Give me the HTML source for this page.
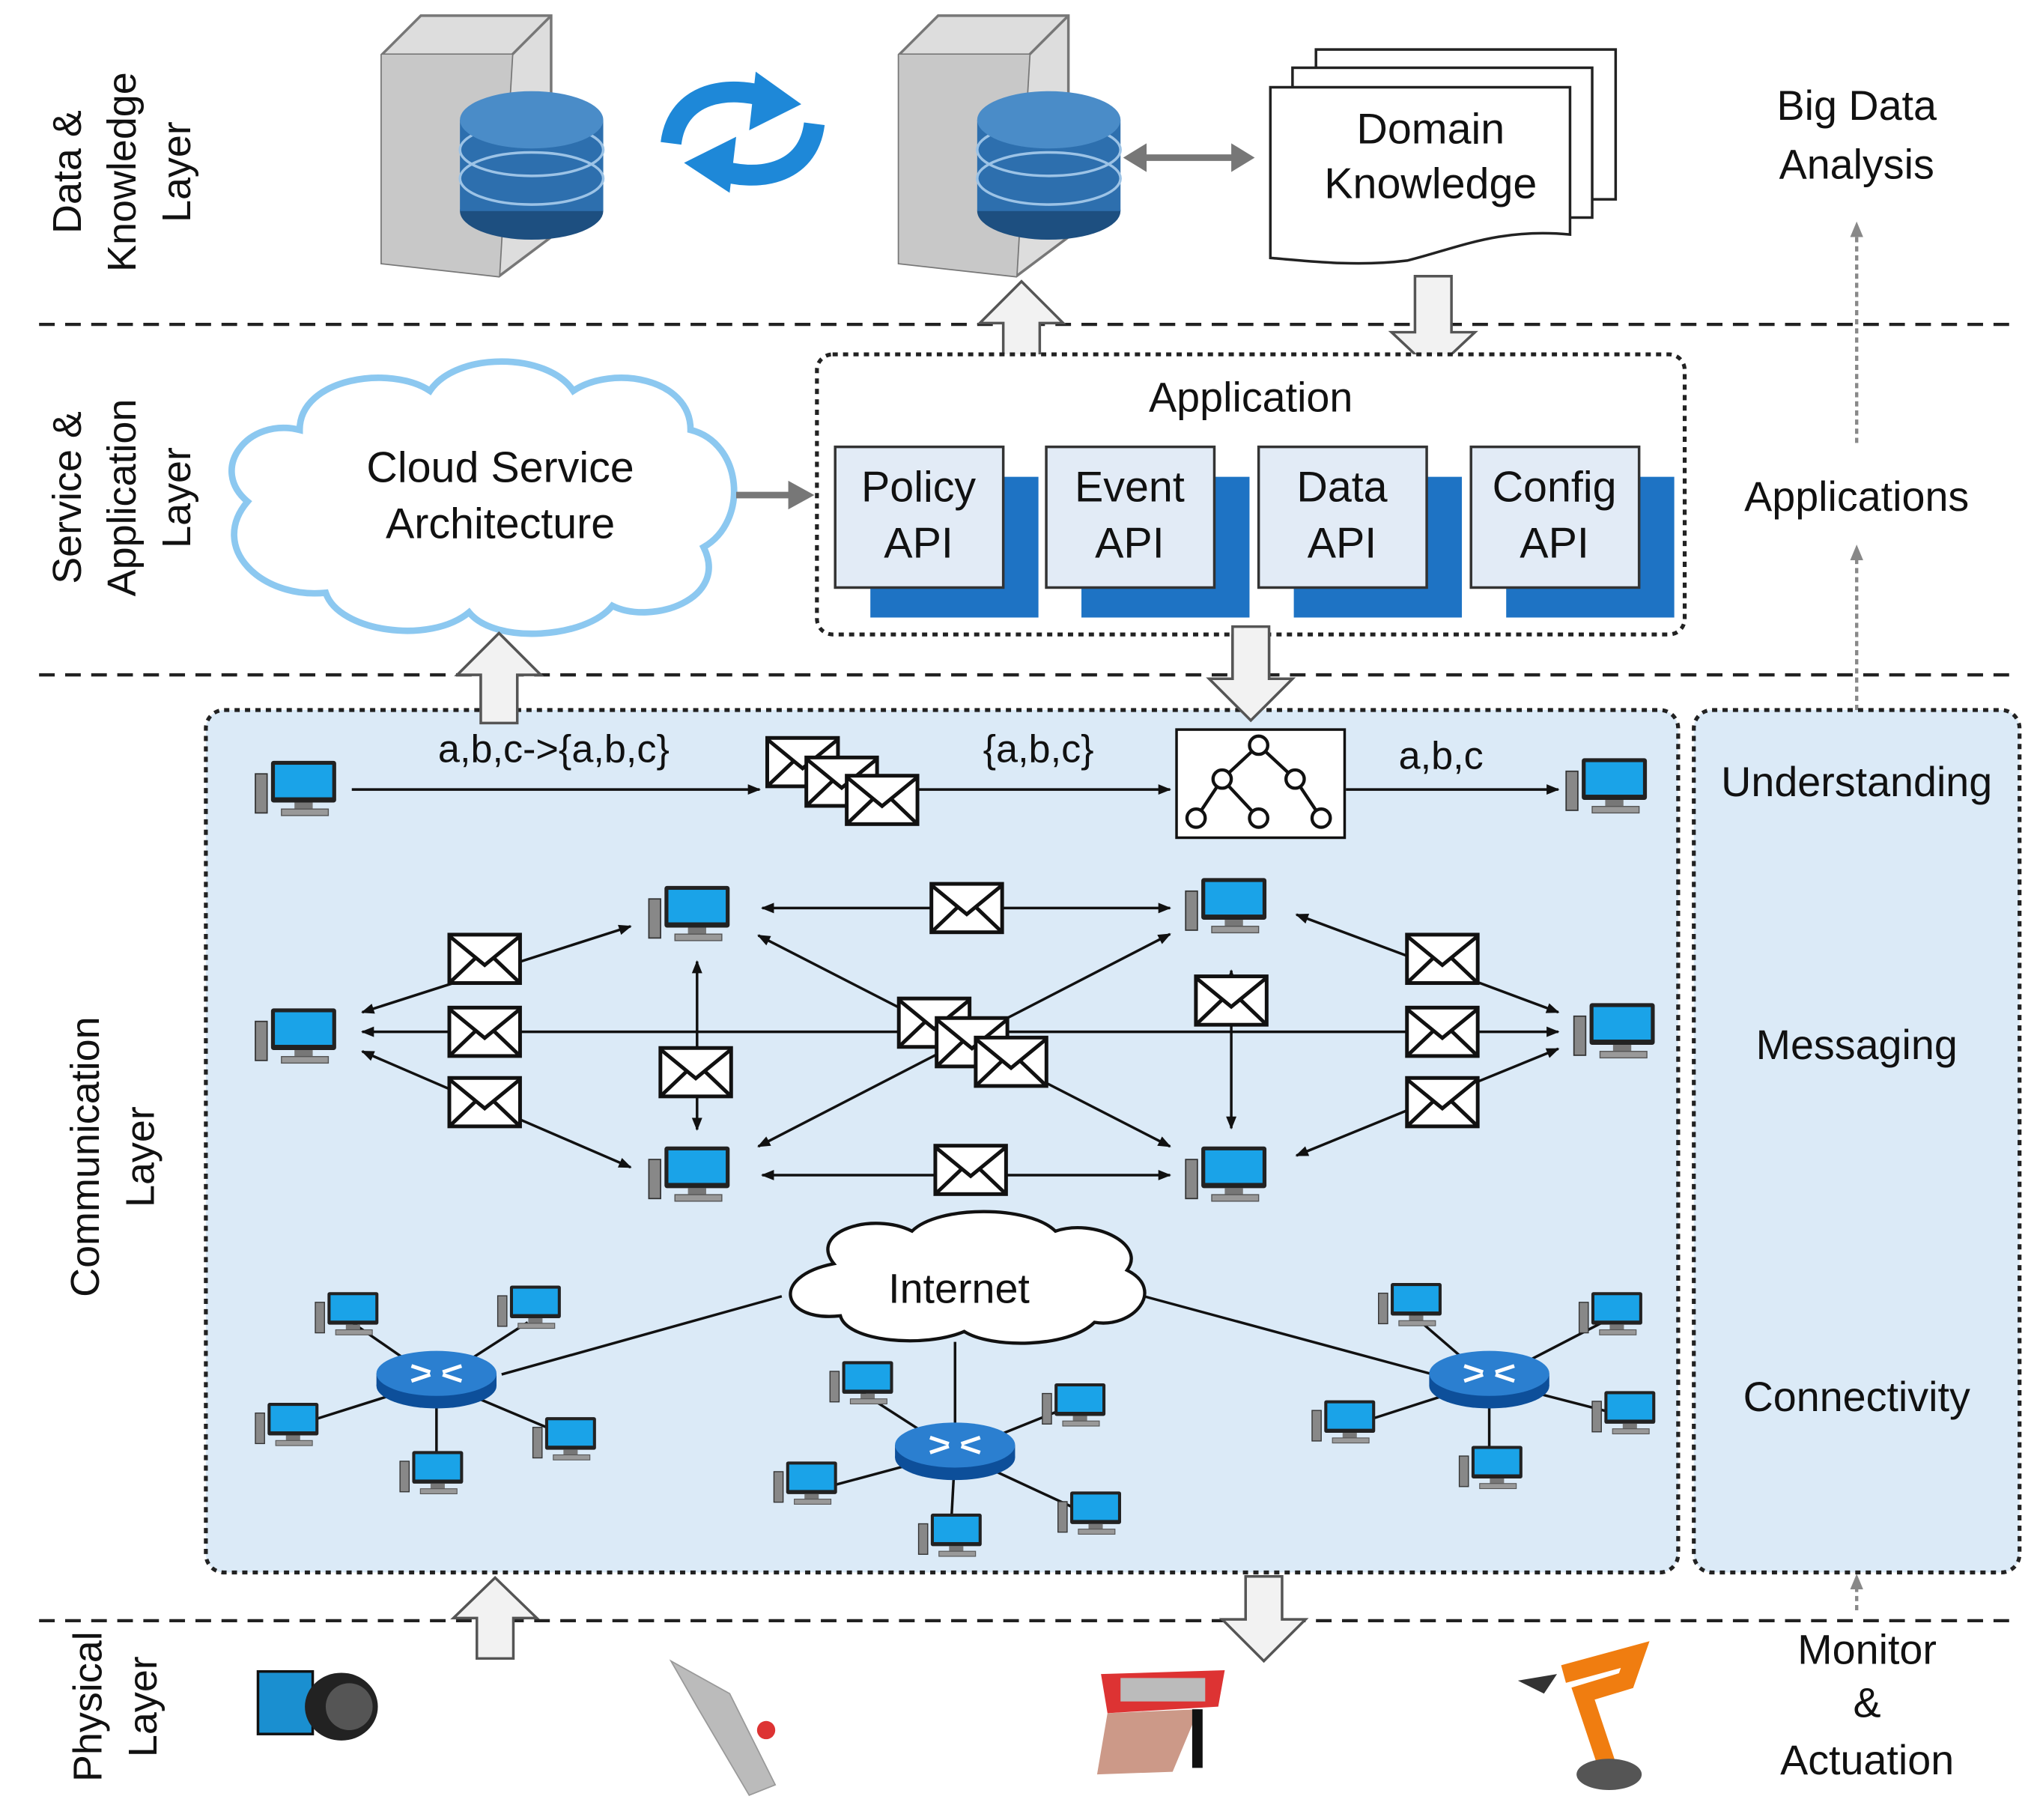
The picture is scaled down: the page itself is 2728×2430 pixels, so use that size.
<!DOCTYPE html>
<html><head><meta charset="utf-8"><style>html,body{margin:0;padding:0;background:#fff}svg{display:block}</style></head><body>
<svg width="2728" height="2430" viewBox="0 0 1568 1397" preserveAspectRatio="none" xmlns="http://www.w3.org/2000/svg" font-family="Liberation Sans, Arial, sans-serif">
<defs>
<symbol id="pc" viewBox="0 0 64 48" overflow="visible">
<rect x="0" y="12" width="9" height="30" fill="#888" stroke="#333" stroke-width="1"/>
<rect x="12" y="2" width="50" height="32" rx="2" fill="#222"/>
<rect x="15" y="5" width="44" height="25" fill="#1aa3e8"/>
<rect x="30" y="34" width="14" height="5" fill="#777"/>
<rect x="20" y="39" width="36" height="5" fill="#999" stroke="#555" stroke-width="0.8"/>
</symbol>
<symbol id="env" viewBox="0 0 60 42" overflow="visible">
<rect x="1.5" y="1.5" width="57" height="39" fill="#fff" stroke="#111" stroke-width="3"/>
<path d="M2 3 L30 26 L58 3 M2 40 L23 20 M58 40 L37 20" fill="none" stroke="#111" stroke-width="3"/>
</symbol>
<symbol id="rt" viewBox="0 0 100 50" overflow="visible">
<ellipse cx="50" cy="30" rx="48" ry="18" fill="#0d4f9a"/>
<rect x="2" y="20" width="96" height="10" fill="#0d4f9a"/>
<ellipse cx="50" cy="20" rx="48" ry="18" fill="#2b7fd0"/>
<path d="M30 14 L45 19 M70 14 L55 19 M30 26 L45 21 M70 26 L55 21" stroke="#fff" stroke-width="3"/>
</symbol>
<marker id="ah" markerWidth="10" markerHeight="10" refX="9" refY="5" orient="auto" markerUnits="userSpaceOnUse"><path d="M0 1 L10 5 L0 9z" fill="#111"/></marker>
<marker id="ahs" markerWidth="10" markerHeight="10" refX="1" refY="5" orient="auto" markerUnits="userSpaceOnUse"><path d="M10 1 L0 5 L10 9z" fill="#111"/></marker>
<marker id="ag" markerWidth="12" markerHeight="12" refX="10" refY="6" orient="auto" markerUnits="userSpaceOnUse"><path d="M0 1 L12 6 L0 11z" fill="#888"/></marker>
<symbol id="srv" viewBox="0 0 170 200" overflow="visible">
<path d="M0 30 L30 0 L130 0 L130 170 L90 200 L0 190z" fill="#ddd" stroke="#777" stroke-width="2"/>
<path d="M0 30 L100 30 L130 0 M100 30 L90 200" fill="none" stroke="#777" stroke-width="2"/>
<path d="M0 30 L100 30 L90 200 L0 190z" fill="#c8c8c8"/>
<ellipse cx="115" cy="150" rx="55" ry="22" fill="#1d4f80"/>
<rect x="60" y="80" width="110" height="70" fill="#2d6fae"/>
<ellipse cx="115" cy="125" rx="55" ry="20" fill="none" stroke="#9cc3e6" stroke-width="2"/>
<ellipse cx="115" cy="103" rx="55" ry="20" fill="none" stroke="#9cc3e6" stroke-width="2"/>
<ellipse cx="115" cy="80" rx="55" ry="22" fill="#4a8cc8"/>
</symbol>
</defs>

<!-- dashed layer lines -->
<g stroke="#222" stroke-width="2.5" stroke-dasharray="12 8">
<line x1="30" y1="249" x2="1550" y2="249"/>
<line x1="30" y1="518" x2="1550" y2="518"/>
<line x1="30" y1="1244" x2="1550" y2="1244"/>
</g>

<!-- layer labels -->
<g font-size="31" fill="#111" text-anchor="middle">
<text transform="translate(62,132) rotate(-90)">Data &amp;</text>
<text transform="translate(104,132) rotate(-90)">Knowledge</text>
<text transform="translate(146,132) rotate(-90)">Layer</text>
<text transform="translate(62,382) rotate(-90)">Service &amp;</text>
<text transform="translate(104,382) rotate(-90)">Application</text>
<text transform="translate(146,382) rotate(-90)">Layer</text>
<text transform="translate(76,888) rotate(-90)">Communication</text>
<text transform="translate(118,888) rotate(-90)">Layer</text>
<text transform="translate(78,1310) rotate(-90)">Physical</text>
<text transform="translate(120,1310) rotate(-90)">Layer</text>
</g>

<!-- right labels -->
<g font-size="32" fill="#111" text-anchor="middle">
<text x="1425" y="92">Big Data</text>
<text x="1425" y="137">Analysis</text>
<text x="1425" y="392">Applications</text>
<text x="1433" y="1277">Monitor</text>
<text x="1433" y="1318">&amp;</text>
<text x="1433" y="1362">Actuation</text>
</g>
<g stroke="#888" stroke-width="2.5" stroke-dasharray="4 3" fill="none">
<line x1="1425" y1="340" x2="1425" y2="172" marker-end="url(#ag)"/>
<line x1="1425" y1="545" x2="1425" y2="420" marker-end="url(#ag)"/>
<line x1="1425" y1="1236" x2="1425" y2="1210" marker-end="url(#ag)"/>
</g>

<!-- top servers -->
<use href="#srv" x="293" y="12" width="170" height="200"/>
<use href="#srv" x="690" y="12" width="170" height="200"/>
<!-- sync arrows -->
<path d="M515 110 C520 70 560 65 590 75" fill="none" stroke="#1e88d8" stroke-width="16"/>
<path d="M580 55 L615 80 L575 100z" fill="#1e88d8"/>
<path d="M625 95 C620 135 580 140 550 130" fill="none" stroke="#1e88d8" stroke-width="16"/>
<path d="M560 148 L525 125 L565 105z" fill="#1e88d8"/>
<!-- double gray arrow -->
<line x1="875" y1="121" x2="950" y2="121" stroke="#777" stroke-width="5"/>
<path d="M862 121 L880 110 L880 132z M963 121 L945 110 L945 132z" fill="#777"/>
<!-- domain knowledge -->
<g stroke="#222" stroke-width="2" fill="#fff">
<rect x="1010" y="38" width="230" height="115"/>
<rect x="992" y="52" width="230" height="115"/>
<path d="M975 67 L1205 67 L1205 180 C1150 175 1120 190 1080 200 C1040 205 1000 200 975 198z"/>
</g>
<text x="1098" y="110" font-size="33" text-anchor="middle" fill="#111">Domain</text>
<text x="1098" y="152" font-size="33" text-anchor="middle" fill="#111">Knowledge</text>

<!-- block arrows -->
<g fill="#f2f2f2" stroke="#555" stroke-width="2">
<path d="M784 216 L816 248 L798 248 L798 297 L770 297 L770 248 L752 248z"/>
<path d="M1100 285 L1132 255 L1114 255 L1114 212 L1086 212 L1086 255 L1068 255z"/>
<path d="M383 486 L415 518 L397 518 L397 555 L369 555 L369 518 L351 518z"/>
<path d="M960 553 L992 521 L974 521 L974 481 L946 481 L946 521 L928 521z"/>
<path d="M380 1211 L412 1242 L394 1242 L394 1273 L366 1273 L366 1242 L348 1242z"/>
<path d="M970 1275 L1002 1243 L984 1243 L984 1210 L956 1210 L956 1243 L938 1243z"/>
</g>

<!-- cloud service -->
<path d="M230 330 C230 290 300 280 330 300 C350 270 420 270 440 300 C470 280 530 290 530 330 C570 340 575 400 540 420 C560 460 500 480 470 465 C450 490 380 495 360 470 C330 495 260 485 250 455 C200 460 160 420 190 385 C160 360 190 320 230 330z" fill="#fff" stroke="#8cc8f0" stroke-width="5"/>
<text x="384" y="370" font-size="33" text-anchor="middle" fill="#111">Cloud Service</text>
<text x="384" y="413" font-size="33" text-anchor="middle" fill="#111">Architecture</text>
<line x1="565" y1="380" x2="612" y2="380" stroke="#777" stroke-width="5"/>
<path d="M625 380 L605 369 L605 391z" fill="#777"/>

<!-- application box -->
<rect x="627" y="272" width="666" height="215" rx="12" fill="#fff" stroke="#222" stroke-width="3" stroke-dasharray="4 4"/>
<text x="960" y="316" font-size="32" text-anchor="middle" fill="#111">Application</text>
<g font-size="33" text-anchor="middle" fill="#111">
<rect x="668" y="366" width="129" height="108" fill="#1e73c4"/>
<rect x="641" y="343" width="129" height="108" fill="#e2ebf6" stroke="#333" stroke-width="2"/>
<text x="705" y="385">Policy</text><text x="705" y="428">API</text>
<rect x="830" y="366" width="129" height="108" fill="#1e73c4"/>
<rect x="803" y="343" width="129" height="108" fill="#e2ebf6" stroke="#333" stroke-width="2"/>
<text x="867" y="385">Event</text><text x="867" y="428">API</text>
<rect x="993" y="366" width="129" height="108" fill="#1e73c4"/>
<rect x="966" y="343" width="129" height="108" fill="#e2ebf6" stroke="#333" stroke-width="2"/>
<text x="1030" y="385">Data</text><text x="1030" y="428">API</text>
<rect x="1156" y="366" width="129" height="108" fill="#1e73c4"/>
<rect x="1129" y="343" width="129" height="108" fill="#e2ebf6" stroke="#333" stroke-width="2"/>
<text x="1193" y="385">Config</text><text x="1193" y="428">API</text>
</g>

<!-- communication boxes -->
<rect x="158" y="545" width="1130" height="662" rx="14" fill="#dbeaf7" stroke="#222" stroke-width="3" stroke-dasharray="4 4"/>
<rect x="1300" y="545" width="250" height="662" rx="14" fill="#dbeaf7" stroke="#222" stroke-width="3" stroke-dasharray="4 4"/>
<g font-size="32" text-anchor="middle" fill="#111">
<text x="1425" y="611">Understanding</text>
<text x="1425" y="813">Messaging</text>
<text x="1425" y="1083">Connectivity</text>
</g>
<!-- redraw arrows over box -->
<g fill="#f2f2f2" stroke="#555" stroke-width="2">
<path d="M383 486 L415 518 L397 518 L397 555 L369 555 L369 518 L351 518z"/>
<path d="M960 553 L992 521 L974 521 L974 481 L946 481 L946 521 L928 521z"/>
</g>

<!-- understanding row -->
<g stroke="#111" stroke-width="2" fill="none">
<line x1="270" y1="606" x2="583" y2="606" marker-end="url(#ah)"/>
<line x1="705" y1="606" x2="898" y2="606" marker-end="url(#ah)"/>
<line x1="1033" y1="606" x2="1196" y2="606" marker-end="url(#ah)"/>
</g>
<g font-size="30" text-anchor="middle" fill="#111">
<text x="425" y="585">a,b,c-&gt;{a,b,c}</text>
<text x="797" y="585">{a,b,c}</text>
<text x="1106" y="590">a,b,c</text>
</g>
<use href="#pc" x="196" y="582" width="64" height="48"/>
<use href="#pc" x="1202" y="580" width="64" height="48"/>
<use href="#env" x="587" y="565" width="58" height="40"/>
<use href="#env" x="617" y="580" width="58" height="40"/>
<use href="#env" x="648" y="594" width="58" height="40"/>
<rect x="903" y="560" width="129" height="83" fill="#fff" stroke="#111" stroke-width="2"/>
<g stroke="#111" stroke-width="2.5" fill="#fff">
<path d="M966 572 L938 598 M966 572 L994 598 M938 598 L918 628 M938 598 L966 628 M994 598 L1014 628" fill="none"/>
<circle cx="966" cy="572" r="7"/><circle cx="938" cy="598" r="7"/><circle cx="994" cy="598" r="7"/>
<circle cx="918" cy="628" r="7"/><circle cx="966" cy="628" r="7"/><circle cx="1014" cy="628" r="7"/>
</g>

<!-- messaging lines -->
<g stroke="#111" stroke-width="2" fill="none" marker-end="url(#ah)" marker-start="url(#ahs)">
<line x1="585" y1="697" x2="898" y2="697"/>
<line x1="585" y1="902" x2="898" y2="902"/>
<line x1="278" y1="792" x2="1196" y2="792"/>
<line x1="278" y1="777" x2="484" y2="711"/>
<line x1="278" y1="807" x2="484" y2="896"/>
<line x1="535" y1="738" x2="535" y2="867"/>
<line x1="582" y1="718" x2="898" y2="880"/>
<line x1="582" y1="880" x2="898" y2="717"/>
<line x1="945" y1="745" x2="945" y2="866"/>
<line x1="995" y1="702" x2="1196" y2="777"/>
<line x1="995" y1="887" x2="1196" y2="805"/>
</g>
<use href="#pc" x="498" y="678" width="64" height="48"/>
<use href="#pc" x="498" y="878" width="64" height="48"/>
<use href="#pc" x="910" y="672" width="64" height="48"/>
<use href="#pc" x="910" y="878" width="64" height="48"/>
<use href="#pc" x="196" y="772" width="64" height="48"/>
<use href="#pc" x="1208" y="768" width="64" height="48"/>
<use href="#env" x="713" y="677" width="58" height="40"/>
<use href="#env" x="716" y="878" width="58" height="40"/>
<use href="#env" x="343" y="716" width="58" height="40"/>
<use href="#env" x="343" y="772" width="58" height="40"/>
<use href="#env" x="343" y="826" width="58" height="40"/>
<use href="#env" x="505" y="803" width="58" height="40"/>
<use href="#env" x="916" y="748" width="58" height="40"/>
<use href="#env" x="1078" y="716" width="58" height="40"/>
<use href="#env" x="1078" y="772" width="58" height="40"/>
<use href="#env" x="1078" y="826" width="58" height="40"/>
<use href="#env" x="688" y="765" width="58" height="40"/>
<use href="#env" x="717" y="780" width="58" height="40"/>
<use href="#env" x="747" y="795" width="58" height="40"/>

<!-- connectivity -->
<g stroke="#111" stroke-width="2">
<line x1="385" y1="1055" x2="600" y2="995"/>
<line x1="878" y1="995" x2="1100" y2="1055"/>
<line x1="733" y1="1030" x2="733" y2="1095"/>
<line x1="335" y1="1060" x2="270" y2="1015"/><line x1="335" y1="1060" x2="405" y2="1015"/>
<line x1="335" y1="1060" x2="240" y2="1090"/><line x1="335" y1="1060" x2="430" y2="1100"/>
<line x1="335" y1="1060" x2="335" y2="1115"/>
<line x1="733" y1="1115" x2="660" y2="1068"/><line x1="733" y1="1115" x2="820" y2="1080"/>
<line x1="733" y1="1115" x2="640" y2="1140"/><line x1="733" y1="1115" x2="830" y2="1160"/>
<line x1="733" y1="1115" x2="730" y2="1170"/>
<line x1="1143" y1="1060" x2="1085" y2="1010"/><line x1="1143" y1="1060" x2="1230" y2="1015"/>
<line x1="1143" y1="1060" x2="1050" y2="1090"/><line x1="1143" y1="1060" x2="1240" y2="1085"/>
<line x1="1143" y1="1060" x2="1143" y2="1115"/>
</g>
<path d="M640 970 C620 945 670 930 700 945 C720 925 790 925 810 945 C840 935 880 955 865 975 C895 990 870 1020 840 1015 C820 1035 760 1035 740 1022 C710 1035 650 1030 645 1010 C600 1015 590 980 640 970z" fill="#fff" stroke="#111" stroke-width="2.5"/>
<text x="736" y="1000" font-size="32" text-anchor="middle" fill="#111">Internet</text>
<use href="#rt" x="287" y="1035" width="96" height="48"/>
<use href="#rt" x="685" y="1090" width="96" height="48"/>
<use href="#rt" x="1095" y="1035" width="96" height="48"/>
<g>
<use href="#pc" x="242" y="990" width="50" height="38"/>
<use href="#pc" x="382" y="985" width="50" height="38"/>
<use href="#pc" x="196" y="1075" width="50" height="38"/>
<use href="#pc" x="409" y="1086" width="50" height="38"/>
<use href="#pc" x="307" y="1112" width="50" height="38"/>
<use href="#pc" x="637" y="1043" width="50" height="38"/>
<use href="#pc" x="800" y="1060" width="50" height="38"/>
<use href="#pc" x="594" y="1120" width="50" height="38"/>
<use href="#pc" x="812" y="1143" width="50" height="38"/>
<use href="#pc" x="705" y="1160" width="50" height="38"/>
<use href="#pc" x="1058" y="983" width="50" height="38"/>
<use href="#pc" x="1212" y="990" width="50" height="38"/>
<use href="#pc" x="1007" y="1073" width="50" height="38"/>
<use href="#pc" x="1222" y="1066" width="50" height="38"/>
<use href="#pc" x="1120" y="1108" width="50" height="38"/>
</g>

<!-- physical devices -->
<g>
<rect x="198" y="1283" width="42" height="48" fill="#1a8fd0" stroke="#111" stroke-width="2"/>
<ellipse cx="262" cy="1310" rx="28" ry="26" fill="#222"/>
<ellipse cx="268" cy="1310" rx="18" ry="18" fill="#555"/>
<path d="M515 1275 L560 1300 L595 1370 L575 1378 L535 1310z" fill="#bbb" stroke="#999"/>
<circle cx="588" cy="1328" r="7" fill="#d33"/>
<path d="M845 1285 L940 1282 L935 1310 L850 1315z" fill="#d33"/>
<rect x="860" y="1288" width="65" height="18" fill="#bbb"/>
<path d="M850 1315 L920 1312 L900 1360 L842 1362z" fill="#c98" />
<rect x="915" y="1312" width="8" height="45" fill="#111"/>
<path d="M1200 1285 L1255 1270 L1248 1290 L1215 1300 L1235 1360" fill="none" stroke="#f07d10" stroke-width="14"/>
<path d="M1165 1290 L1195 1285 L1185 1300z" fill="#333"/>
<ellipse cx="1235" cy="1362" rx="25" ry="12" fill="#555"/>
</g>
</svg>
</body></html>
